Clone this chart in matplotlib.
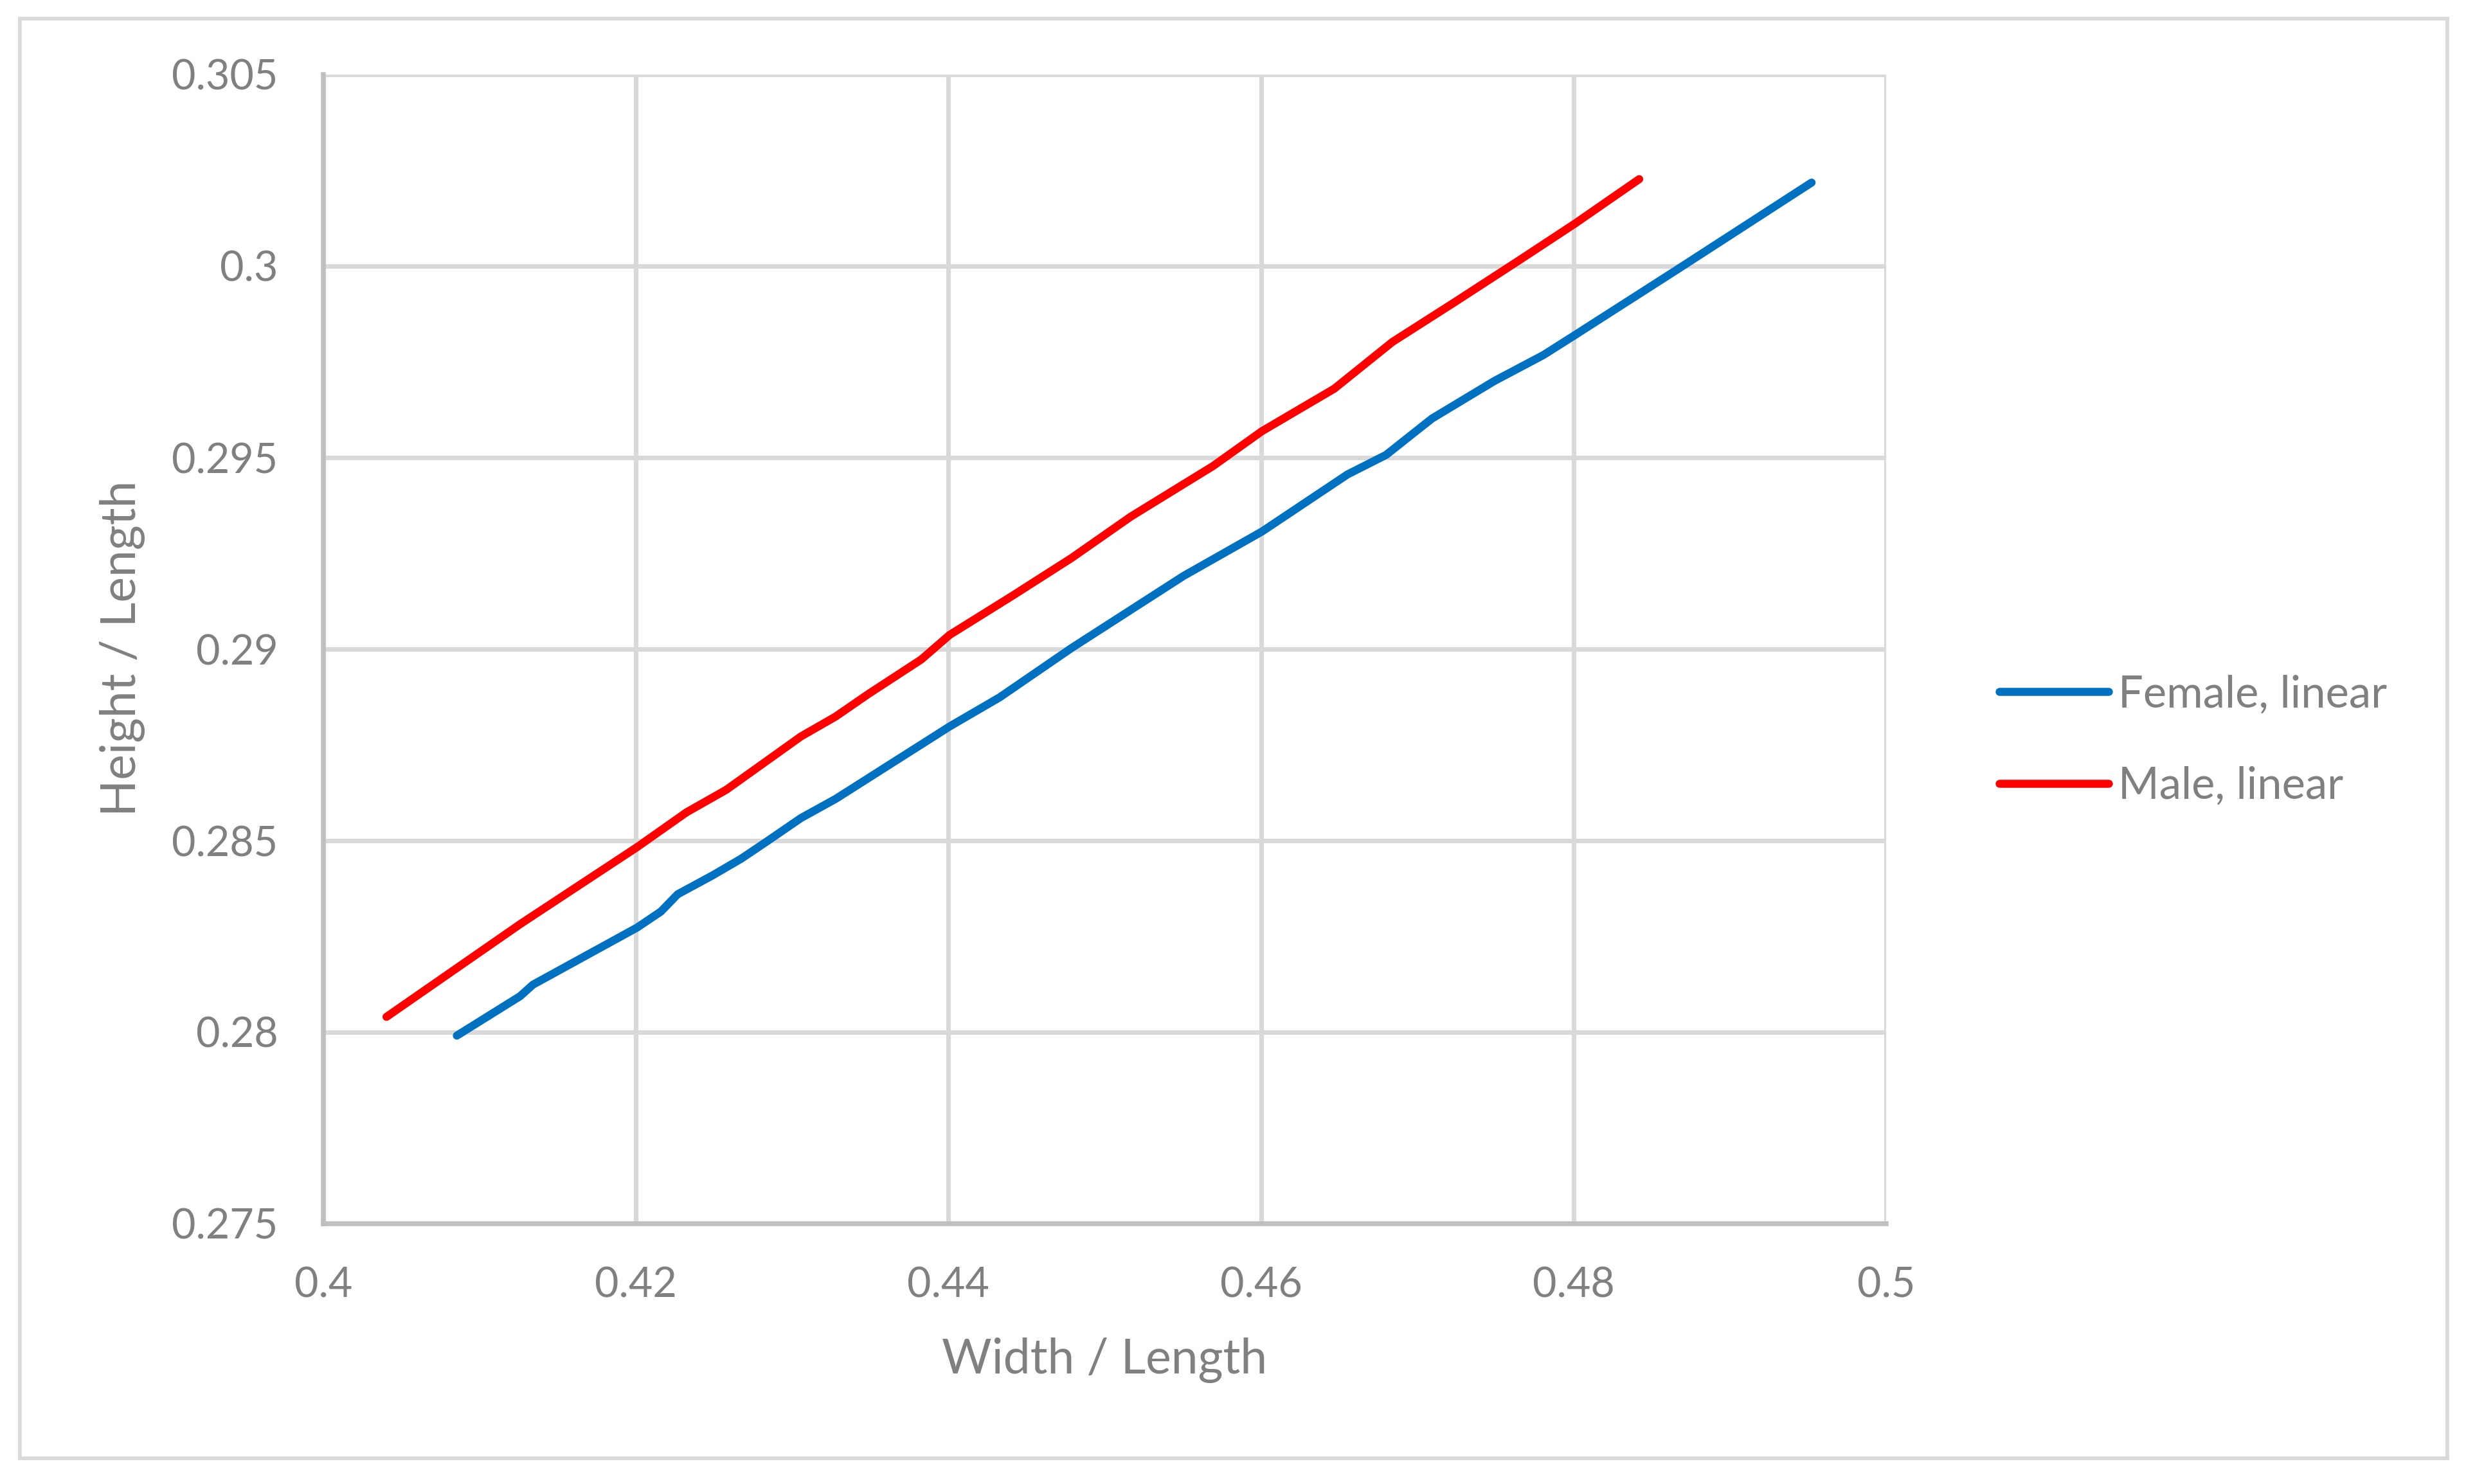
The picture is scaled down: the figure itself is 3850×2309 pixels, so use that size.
import matplotlib
matplotlib.use("Agg")
import matplotlib.pyplot as plt
from matplotlib.patches import Rectangle

# Values
female_x = [0.40854, 0.41259, 0.41341, 0.42007, 0.42160, 0.42267, 0.42489, 0.42674,
            0.42838, 0.43056, 0.43278, 0.44007, 0.44327, 0.44788, 0.45504, 0.46006,
            0.46553, 0.46800, 0.47094, 0.47493, 0.47808, 0.48009, 0.48667, 0.49523]
female_y = [0.27991, 0.28094, 0.28124, 0.28273, 0.28315, 0.28360, 0.28409, 0.28453,
            0.28498, 0.28559, 0.28609, 0.28798, 0.28874, 0.29003, 0.29191, 0.29307,
            0.29456, 0.29507, 0.29602, 0.29700, 0.29768, 0.29820, 0.29992, 0.30218]

male_x = [0.40404, 0.41259, 0.42007, 0.42324, 0.42579, 0.43056, 0.43278, 0.43488,
          0.43826, 0.44007, 0.44412, 0.44788, 0.45167, 0.45693, 0.46006, 0.46469,
          0.46841, 0.47240, 0.47659, 0.48009, 0.48420]
male_y = [0.28040, 0.28282, 0.28483, 0.28574, 0.28633, 0.28772, 0.28824, 0.28883,
          0.28973, 0.29037, 0.29140, 0.29238, 0.29346, 0.29478, 0.29569, 0.29680,
          0.29802, 0.29906, 0.30017, 0.30111, 0.30227]

x_ticks = [0.4, 0.42, 0.44, 0.46, 0.48, 0.5]
x_labels = ["0.4", "0.42", "0.44", "0.46", "0.48", "0.5"]
y_ticks = [0.275, 0.28, 0.285, 0.29, 0.295, 0.3, 0.305]
y_labels = ["0.275", "0.28", "0.285", "0.29", "0.295", "0.3", "0.305"]

series_names = ["Female, linear", "Male, linear"]
series_colors = ["#0070C0", "#FF0000"]

plt.rcParams["font.family"] = ["Lato", "DejaVu Sans"]
text_gray = "#808080"
grid_gray = "#D9D9D9"
axis_gray = "#BFBFBF"

W, H, DPI = 3850, 2309, 300
fig = plt.figure(figsize=(W / DPI, H / DPI), dpi=DPI)

# outer chart border
fig.patches.append(Rectangle((31 / W, 1 - 2269 / H), (3807 - 31) / W, (2269 - 29) / H,
                             transform=fig.transFigure, fill=False,
                             edgecolor=grid_gray, linewidth=1.4))

ax = fig.add_axes([503 / W, 1 - 1904 / H, (2934 - 503) / W, (1904 - 116) / H])

ax.plot(female_x, female_y, color=series_colors[0], lw=3.0,
        solid_capstyle="round", solid_joinstyle="round", label=series_names[0], zorder=3)
ax.plot(male_x, male_y, color=series_colors[1], lw=3.0,
        solid_capstyle="round", solid_joinstyle="round", label=series_names[1], zorder=3)

ax.set_xlim(0.4, 0.5)
ax.set_ylim(0.275, 0.305)
ax.set_xticks(x_ticks)
ax.set_xticklabels(x_labels)
ax.set_yticks(y_ticks)
ax.set_yticklabels(y_labels)

ax.grid(True, color=grid_gray, linewidth=1.7, zorder=0)
ax.set_axisbelow(True)
for side in ["top", "right"]:
    ax.spines[side].set_visible(False)
for side in ["left", "bottom"]:
    ax.spines[side].set_color(axis_gray)
    ax.spines[side].set_linewidth(1.8)

ax.tick_params(axis="both", length=0, labelsize=15.5, labelcolor=text_gray)
ax.tick_params(axis="x", pad=16)
ax.tick_params(axis="y", pad=17)

ax.set_xlabel("Width / Length", fontsize=18, color=text_gray)
ax.set_ylabel("Height / Length", fontsize=18, color=text_gray)
ax.xaxis.label.set_va("center")
ax.yaxis.label.set_va("center")
ax.xaxis.set_label_coords((1718 - 503) / (2934 - 503), -(2116 - 1904) / (1904 - 116))
ax.yaxis.set_label_coords(-(503 - 191) / (2934 - 503), (1904 - 1009) / (1904 - 116))

leg = ax.legend(loc="center left", bbox_to_anchor=(3110 / W, 1 - 1152 / H),
                bbox_transform=fig.transFigure, frameon=False, fontsize=16.5,
                handlelength=2.47, handletextpad=0.22, labelspacing=1.16,
                borderpad=0, borderaxespad=0)
for t in leg.get_texts():
    t.set_color(text_gray)

fig.savefig("out.png", dpi=DPI, facecolor="white")
